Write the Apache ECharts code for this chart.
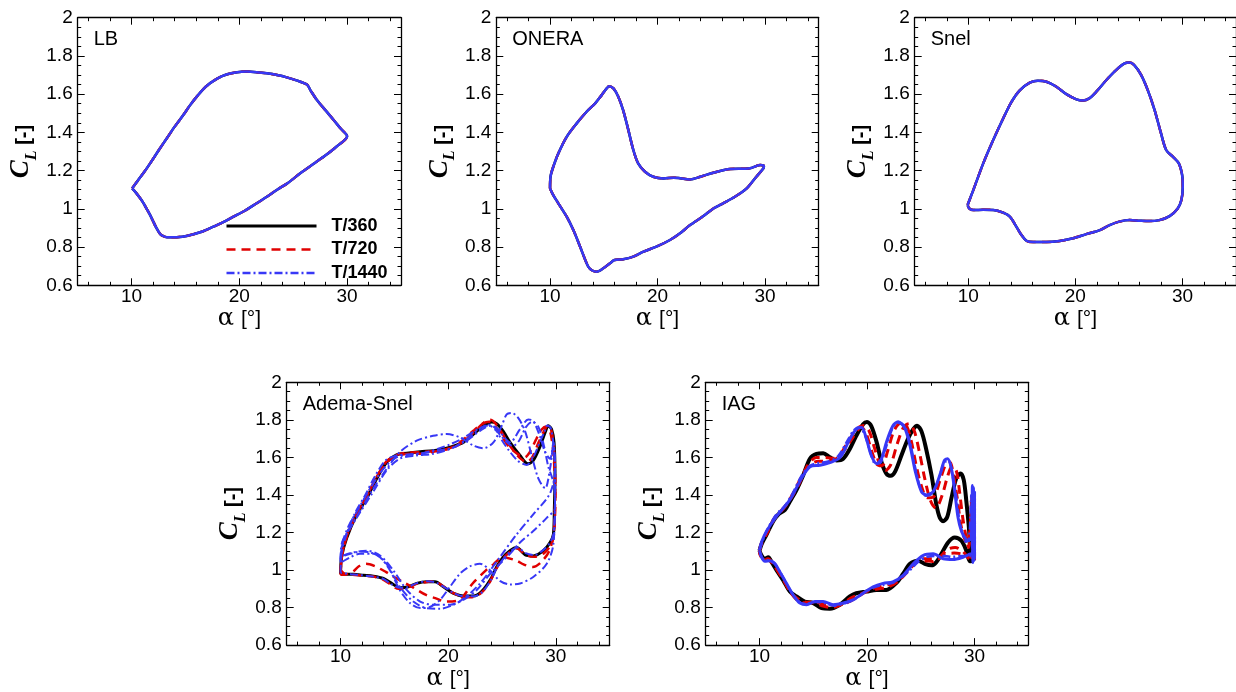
<!DOCTYPE html>
<html>
<head>
<meta charset="utf-8">
<script src="https://cdn.jsdelivr.net/npm/echarts@6/dist/echarts.min.js"></script>
<style>
  html, body { margin: 0; padding: 0; background: #fff; }
  #chart { width: 1236px; height: 692px; }
</style>
</head>
<body>
<div id="chart"></div>
<script>
// ---- axis ranges and tick positions ----
const alphaRange = [5, 35];
const clRange = [0.6, 2];
const alphaMajorTicks = [10, 20, 30];
const alphaMinorTicks = [6, 8, 12, 14, 16, 18, 22, 24, 26, 28, 32, 34];
const clMajorTicks = [0.6, 0.8, 1, 1.2, 1.4, 1.6, 1.8, 2];
const clMinorTicks = [0.65, 0.7, 0.75, 0.85, 0.9, 0.95, 1.05, 1.1, 1.15, 1.25, 1.3, 1.35,
                     1.45, 1.5, 1.55, 1.65, 1.7, 1.75, 1.85, 1.9, 1.95];

const seriesNames = ['T/360', 'T/720', 'T/1440'];
const panelTitles = ['LB', 'ONERA', 'Snel', 'Adema-Snel', 'IAG'];

// ---- lift coefficient loops, [alpha (deg), C_L] ----
const lbLoop = [[10.05,1.107],[10.6,1.15],[11.2,1.195],[11.72,1.238],[12.5,1.305],[13.27,1.369],[14.0,1.43],[14.8,1.491],[15.4,1.54],[16.05,1.587],[16.9,1.64],[17.9,1.68],[18.8,1.703],[19.8,1.715],[20.7,1.718],[21.6,1.715],[22.55,1.709],[23.5,1.7],[24.4,1.688],[25.3,1.672],[26.27,1.65],[26.6,1.62],[27.2,1.569],[28.0,1.515],[28.75,1.465],[29.4,1.42],[30.0,1.38],
  [29.0,1.325],[28.0,1.28],[27.0,1.24],[25.65,1.186],[24.5,1.135],[23.5,1.1],[22.55,1.063],[21.5,1.025],[20.5,0.99],[19.46,0.959],[18.5,0.93],[17.6,0.907],[16.5,0.88],[15.1,0.858],[14.2,0.852],[13.27,0.851],[12.9,0.858],[12.65,0.868],[12.3,0.9],[12.0,0.935],[11.7,0.97],[11.4,1.0],[11.1,1.03],[10.8,1.055],[10.4,1.085],[10.05,1.107]];

const oneraLoop = [[10.0,1.107],[10.05,1.17],[10.3,1.22],[10.77,1.29],[11.55,1.377],[12.48,1.447],[13.4,1.508],[14.2,1.552],[14.8,1.595],[15.27,1.63],[15.5,1.642],[15.9,1.63],[16.35,1.587],[16.8,1.517],[17.29,1.412],[17.75,1.308],[18.2,1.238],[18.84,1.194],[19.6,1.168],[20.55,1.159],[21.5,1.163],[22.1,1.16],[23.0,1.154],[24.0,1.168],[25.2,1.189],[26.75,1.208],[28.0,1.21],[28.6,1.212],[29.55,1.229],[29.9,1.224],
  [29.86,1.212],[29.2,1.168],[28.3,1.107],[27.2,1.063],[26.1,1.029],[25.2,1.002],[24.27,0.962],[23.03,0.915],[22.1,0.872],[21.16,0.837],[19.9,0.802],[18.7,0.776],[17.75,0.75],[16.8,0.736],[16.0,0.732],[15.58,0.715],[14.96,0.689],[14.34,0.671],[13.97,0.676],[13.56,0.697],[12.8,0.802],[12.17,0.889],[11.55,0.959],[10.77,1.029],[10.3,1.072],[10.0,1.107]];

const snelLoop = [[9.94,1.02],[10.47,1.098],[11.4,1.238],[12.33,1.36],[13.26,1.473],[14.04,1.56],[14.81,1.62],[15.75,1.66],[16.5,1.67],[17.3,1.665],[18.23,1.639],[19.16,1.6],[20.1,1.573],[20.7,1.567],[21.3,1.578],[21.96,1.613],[22.9,1.674],[23.8,1.726],[24.6,1.761],[25.06,1.765],[25.5,1.752],[26.15,1.7],[26.77,1.62],[27.4,1.517],[28.0,1.395],[28.48,1.308],[29.1,1.273],[29.66,1.238],[29.97,1.177],[30.03,1.116],[29.9,1.046],[29.56,1.002],
  [28.8,0.962],[27.85,0.941],[26.9,0.936],[25.99,0.938],[25.06,0.941],[24.1,0.933],[23.2,0.915],[22.3,0.889],[21.02,0.868],[19.78,0.846],[18.54,0.832],[17.3,0.826],[16.06,0.826],[15.43,0.833],[14.97,0.863],[14.5,0.906],[13.88,0.959],[13.26,0.98],[12.33,0.994],[11.4,0.995],[10.47,0.994],[10.1,1.002],[9.94,1.02]];

const adsBlack = [[10.0,0.98],[10.1,1.07],[10.57,1.17],[11.5,1.295],[12.43,1.383],[13.36,1.488],[14.3,1.575],[15.2,1.614],[16.15,1.622],[17.4,1.63],[18.6,1.636],[19.55,1.645],[20.5,1.66],[21.4,1.68],[22.35,1.724],[23.25,1.768],[24.04,1.788],[24.5,1.78],[25.1,1.74],[25.74,1.68],[26.67,1.61],[27.4,1.566],[27.9,1.584],[28.5,1.654],[29.0,1.733],[29.3,1.768],[29.6,1.75],[29.83,1.68],[29.92,1.505],[29.86,1.33],[29.77,1.19],
  [29.46,1.147],[28.84,1.103],[27.9,1.075],[27.13,1.082],[26.36,1.12],[25.74,1.103],[25.1,1.068],[24.5,1.016],[23.9,0.946],[23.1,0.885],[22.34,0.862],[21.4,0.862],[20.5,0.876],[19.55,0.911],[18.78,0.937],[18.0,0.937],[17.07,0.929],[16.3,0.911],[15.5,0.906],[14.75,0.929],[13.98,0.955],[13.05,0.967],[12.12,0.972],[11.2,0.977],[10.26,0.977],[10.0,0.98]];

const adsRedA = [[10.0,0.975],[10.15,1.08],[10.6,1.18],[11.5,1.3],[12.4,1.39],[13.3,1.49],[14.3,1.58],[15.3,1.615],[16.3,1.625],[17.5,1.628],[18.6,1.633],[19.6,1.64],[20.6,1.655],[21.5,1.69],[22.4,1.735],[23.3,1.785],[23.9,1.8],[24.4,1.78],[25.0,1.73],[25.7,1.665],[26.6,1.6],[27.3,1.575],[27.8,1.6],[28.4,1.68],[28.9,1.74],[29.25,1.77],[29.6,1.74],[29.85,1.62],[29.95,1.45],[29.9,1.3],[29.8,1.18],
  [29.5,1.13],[28.9,1.09],[28.0,1.07],[27.2,1.08],[26.4,1.115],[25.7,1.095],[25.0,1.055],[24.4,1.0],[23.8,0.93],[23.0,0.875],[22.2,0.855],[21.3,0.86],[20.4,0.88],[19.5,0.915],[18.7,0.94],[17.9,0.935],[17.0,0.925],[16.2,0.905],[15.4,0.9],[14.6,0.925],[13.9,0.95],[13.0,0.965],[12.0,0.97],[11.0,0.975],[10.0,0.975]];

const adsRedB = [[10.0,1.0],[10.2,1.1],[10.7,1.2],[11.6,1.31],[12.5,1.4],[13.4,1.5],[14.4,1.58],[15.4,1.61],[16.4,1.62],[17.5,1.62],[18.6,1.63],[19.6,1.64],[20.6,1.66],[21.5,1.7],[22.4,1.745],[23.2,1.78],[23.8,1.79],[24.3,1.77],[24.9,1.72],[25.6,1.66],[26.4,1.62],[27.1,1.6],[27.6,1.63],[28.2,1.7],[28.7,1.75],[29.1,1.765],[29.5,1.73],[29.8,1.6],[29.95,1.4],
  [29.83,1.208],[29.4,1.103],[28.6,1.04],[27.85,1.016],[27.0,1.03],[26.3,1.051],[25.06,1.068],[24.2,1.03],[23.5,0.998],[22.27,0.928],[21.03,0.841],[19.8,0.832],[18.8,0.85],[17.94,0.867],[16.8,0.905],[15.77,0.937],[14.9,0.965],[14.2,0.99],[13.2,1.02],[12.37,1.033],[11.7,1.02],[11.13,0.99],[10.5,0.978],[10.0,1.0]];

const adsBlueA = [[10.0,0.985],[10.1,1.09],[10.55,1.19],[11.4,1.31],[12.3,1.4],[13.2,1.5],[14.2,1.585],[15.2,1.61],[16.2,1.615],[17.3,1.62],[18.4,1.63],[19.4,1.64],[20.4,1.65],[21.3,1.68],[22.2,1.72],[23.0,1.755],[23.7,1.775],[24.3,1.76],[24.9,1.7],[25.6,1.64],[26.5,1.58],[27.3,1.56],[27.9,1.6],[28.5,1.68],[28.9,1.73],[29.2,1.77],[29.5,1.76],[29.8,1.66],[29.95,1.48],[29.9,1.32],[29.8,1.2],
  [29.5,1.15],[28.9,1.11],[28.0,1.08],[27.2,1.09],[26.4,1.12],[25.8,1.1],[25.2,1.065],[24.6,1.02],[24.0,0.95],[23.2,0.885],[22.4,0.86],[21.5,0.86],[20.6,0.875],[19.6,0.91],[18.8,0.935],[18.0,0.94],[17.1,0.93],[16.3,0.91],[15.5,0.905],[14.7,0.925],[13.9,0.955],[13.0,0.965],[12.0,0.972],[11.0,0.978],[10.0,0.985]];

const adsBlueB = [[10.0,1.05],[10.1,1.138],[10.9,1.226],[11.8,1.313],[13.05,1.435],[14.3,1.54],[15.5,1.628],[17.07,1.689],[18.6,1.715],[19.86,1.724],[21.1,1.706],[22.34,1.663],[23.27,1.649],[24.2,1.68],[24.97,1.768],[25.43,1.829],[25.9,1.837],[26.5,1.81],[27.13,1.741],[27.75,1.61],[28.37,1.488],[29.0,1.435],[29.46,1.54],[29.77,1.663],[29.92,1.558],[29.92,1.418],
  [29.77,1.138],[29.15,1.033],[27.9,0.963],[26.67,0.928],[25.74,0.923],[24.8,0.942],[23.9,0.998],[22.95,1.033],[22.0,1.019],[21.1,0.981],[20.17,0.911],[19.24,0.841],[18.3,0.803],[17.4,0.797],[16.45,0.824],[15.5,0.894],[14.6,0.998],[13.67,1.068],[12.74,1.094],[11.8,1.098],[10.9,1.086],[10.1,1.068],[10.0,1.05]];

const adsBlueC = [[10.0,1.04],[10.26,1.156],[11.5,1.278],[13.05,1.418],[14.3,1.532],[15.5,1.593],[17.07,1.61],[18.6,1.619],[20.17,1.645],[21.7,1.689],[22.95,1.741],[23.9,1.768],[24.5,1.758],[25.1,1.715],[25.74,1.68],[26.67,1.75],[27.44,1.802],[27.9,1.794],[28.5,1.715],[29.0,1.628],[29.46,1.593],[29.77,1.68],[29.92,1.54],
  [29.46,1.409],[27.9,1.296],[26.36,1.19],[24.8,1.068],[23.9,0.998],[22.95,0.928],[21.7,0.859],[20.5,0.815],[19.24,0.794],[18.0,0.797],[16.76,0.832],[15.5,0.911],[14.27,1.033],[13.05,1.086],[11.8,1.086],[10.9,1.068],[10.1,1.042],[10.0,1.04]];

const adsBlueD = [[10.0,1.06],[10.2,1.15],[10.8,1.24],[11.7,1.33],[12.8,1.44],[14.0,1.54],[15.2,1.6],[16.5,1.615],[17.8,1.625],[19.0,1.645],[20.2,1.67],[21.3,1.7],[22.3,1.735],[23.1,1.76],[23.8,1.77],[24.5,1.74],[25.3,1.69],[26.0,1.66],[26.6,1.69],[27.2,1.76],[27.8,1.79],[28.4,1.76],[28.9,1.66],[29.3,1.55],[29.6,1.5],[29.85,1.45],[29.92,1.33],
  [29.15,1.278],[27.9,1.208],[26.67,1.147],[25.74,1.086],[24.8,1.033],[23.9,0.98],[22.65,0.894],[21.4,0.841],[20.17,0.815],[18.6,0.815],[17.4,0.832],[16.15,0.894],[14.9,0.998],[13.67,1.077],[12.43,1.103],[11.2,1.094],[10.26,1.077],[10.0,1.06]];

const iagBlack = [[10.0,1.103],[10.2,1.138],[10.67,1.19],[11.28,1.26],[11.75,1.296],[12.37,1.32],[12.83,1.365],[13.45,1.427],[14.07,1.505],[14.69,1.593],[15.3,1.619],[15.93,1.622],[16.55,1.6],[17.17,1.584],[17.79,1.593],[18.4,1.645],[19.0,1.715],[19.64,1.776],[20.0,1.788],[20.4,1.767],[20.9,1.68],[21.35,1.575],[21.8,1.514],[22.2,1.502],[22.6,1.523],[23.2,1.61],[23.8,1.698],[24.3,1.75],[24.66,1.768],[25.06,1.74],[25.5,1.645],[26.0,1.505],[26.45,1.348],[26.77,1.278],[27.07,1.26],[27.45,1.281],[27.85,1.383],[28.3,1.488],[28.7,1.514],[29.0,1.479],[29.24,1.365],[29.5,1.208],[29.6,1.086],[29.7,1.05],
  [29.55,1.047],[29.24,1.103],[28.78,1.156],[28.16,1.173],[27.54,1.147],[26.92,1.086],[26.45,1.042],[26.0,1.025],[25.37,1.033],[24.75,1.05],[24.0,1.033],[23.36,0.98],[22.74,0.932],[21.8,0.894],[20.88,0.894],[19.95,0.885],[19.0,0.876],[18.4,0.859],[17.48,0.815],[16.55,0.794],[15.77,0.797],[15.0,0.824],[14.2,0.832],[13.45,0.859],[12.83,0.885],[12.2,0.946],[11.6,0.998],[11.13,1.042],[10.82,1.068],[10.5,1.06],[10.2,1.077],[10.0,1.103]];

const iagRedA = [[10.0,1.105],[10.2,1.145],[10.7,1.2],[11.5,1.285],[12.4,1.34],[13.1,1.405],[13.9,1.495],[14.7,1.56],[15.5,1.58],[16.4,1.58],[17.3,1.6],[18.2,1.68],[18.9,1.74],[19.4,1.765],[19.9,1.73],[20.4,1.64],[20.9,1.565],[21.4,1.555],[21.9,1.63],[22.5,1.74],[23.1,1.78],[23.6,1.775],[24.1,1.69],[24.6,1.55],[25.1,1.44],[25.6,1.385],[26.2,1.39],[26.8,1.48],[27.3,1.56],[27.7,1.575],[28.0,1.52],[28.4,1.38],[28.7,1.25],[29.0,1.18],[29.3,1.14],[29.55,1.2],[29.75,1.4],[29.85,1.08],[29.95,1.35],[30.0,1.06],
  [29.6,1.07],[28.9,1.085],[28.1,1.09],[27.3,1.085],[26.6,1.06],[25.9,1.06],[25.2,1.06],[24.4,1.03],[23.6,0.98],[22.8,0.94],[21.9,0.92],[21.0,0.91],[20.1,0.89],[19.2,0.86],[18.3,0.83],[17.4,0.815],[16.5,0.81],[15.6,0.825],[14.8,0.83],[14.1,0.825],[13.5,0.84],[12.9,0.88],[12.3,0.94],[11.7,0.995],[11.2,1.035],[10.8,1.055],[10.4,1.055],[10.1,1.075],[10.0,1.105]];

const iagRedB = [[10.0,1.104],[10.2,1.14],[10.7,1.195],[11.4,1.275],[12.2,1.325],[12.9,1.38],[13.7,1.46],[14.5,1.56],[15.3,1.6],[16.1,1.6],[16.9,1.595],[17.7,1.625],[18.5,1.69],[19.2,1.75],[19.7,1.77],[20.2,1.74],[20.7,1.65],[21.2,1.56],[21.7,1.53],[22.2,1.56],[22.8,1.67],[23.4,1.76],[23.9,1.78],[24.4,1.74],[24.9,1.62],[25.4,1.48],[25.9,1.37],[26.4,1.33],[27.0,1.4],[27.5,1.5],[27.9,1.55],[28.3,1.53],[28.6,1.42],[28.9,1.28],[29.2,1.18],[29.45,1.12],[29.65,1.25],[29.8,1.42],[29.9,1.06],[30.0,1.38],[30.0,1.05],
  [29.5,1.06],[28.9,1.1],[28.2,1.12],[27.5,1.11],[26.8,1.07],[26.1,1.045],[25.3,1.05],[24.5,1.04],[23.7,0.99],[22.9,0.94],[22.0,0.91],[21.1,0.9],[20.2,0.89],[19.3,0.87],[18.5,0.85],[17.6,0.815],[16.7,0.8],[15.8,0.81],[15.0,0.825],[14.2,0.83],[13.5,0.85],[12.9,0.88],[12.3,0.94],[11.7,0.995],[11.2,1.04],[10.8,1.06],[10.4,1.058],[10.1,1.075],[10.0,1.104]];

const iagBlueInner = [[10.0,1.105],[10.6,1.2],[11.5,1.29],[12.4,1.345],[13.1,1.41],[13.9,1.5],[14.7,1.555],[15.5,1.57],[16.4,1.578],[17.3,1.605],[18.2,1.69],[18.8,1.745],[19.3,1.76],[19.8,1.72],[20.3,1.63],[20.8,1.565],[21.3,1.575],[21.8,1.66],[22.4,1.76],[22.9,1.785],[23.5,1.765],[24.0,1.68],[24.5,1.54],[25.0,1.43],[25.5,1.395],[26.1,1.41],[26.7,1.49],[27.2,1.575],[27.6,1.58],[27.9,1.52],[28.3,1.39],[28.6,1.26],[28.9,1.19],[29.2,1.15],[29.5,1.17],[29.7,1.4],[29.8,1.07],[29.9,1.38],[30.0,1.06],
  [29.6,1.075],[28.9,1.075],[28.0,1.07],[27.2,1.075],[26.4,1.075],[25.6,1.07],[24.8,1.045],[24.0,1.0],[23.2,0.96],[22.3,0.93],[21.4,0.92],[20.5,0.905],[19.6,0.875],[18.7,0.84],[17.8,0.82],[16.9,0.81],[16.0,0.825],[15.2,0.83],[14.4,0.818],[13.7,0.83],[13.1,0.87],[12.5,0.93],[11.9,0.99],[11.4,1.035],[10.9,1.052],[10.5,1.05],[10.2,1.07],[10.0,1.105]];

const iagBlueOuter = [[10.0,1.106],[10.2,1.15],[10.67,1.208],[11.6,1.287],[12.5,1.348],[13.1,1.4],[13.9,1.488],[14.7,1.55],[15.6,1.558],[16.55,1.572],[17.5,1.6],[18.4,1.698],[19.0,1.75],[19.5,1.759],[19.95,1.698],[20.4,1.61],[20.9,1.567],[21.35,1.593],[21.8,1.68],[22.4,1.767],[22.9,1.79],[23.5,1.758],[24.0,1.663],[24.5,1.523],[25.06,1.418],[25.5,1.4],[26.15,1.418],[26.77,1.505],[27.2,1.584],[27.5,1.593],[27.85,1.54],[28.16,1.418],[28.47,1.278],[28.78,1.208],[29.1,1.173],[29.4,1.156],[29.7,1.173],[29.8,1.45],[29.85,1.04],[29.9,1.44],[29.95,1.05],[30.0,1.42],[30.0,1.07],
  [29.7,1.086],[28.93,1.068],[28.0,1.056],[27.1,1.06],[26.15,1.086],[25.2,1.077],[24.3,1.033],[23.36,0.972],[22.4,0.937],[21.5,0.929],[20.57,0.911],[19.64,0.876],[18.7,0.841],[17.8,0.824],[16.86,0.815],[15.93,0.832],[15.15,0.832],[14.38,0.815],[13.76,0.824],[13.14,0.867],[12.52,0.928],[11.9,0.99],[11.44,1.033],[10.98,1.05],[10.5,1.047],[10.2,1.068],[10.0,1.106]];

// ---- layout of the five panels (px) ----
const gridBoxes = [
  { left: 77.7,  top: 17.7,  width: 323.3, height: 267.6 },
  { left: 496.3, top: 17.7,  width: 322.4, height: 267.6 },
  { left: 914.7, top: 17.7,  width: 322.4, height: 267.6 },
  { left: 286.7, top: 382.3, width: 323,   height: 267 },
  { left: 705.7, top: 382.3, width: 322.6, height: 267 }
];

// ---- line styles per time step ----
const BLACK = '#000000', RED = '#e00000', BLUE = '#3838f6';
const dashRed = [9, 6];
const dashDot = [8, 3, 2, 3];
const st = {
  black: (w) => ({ color: BLACK, type: 'solid', width: w }),
  red: (w) => ({ color: RED, type: dashRed, width: w }),
  blueDD: (w) => ({ color: BLUE, type: dashDot, width: w }),
  blueSolid: (w) => ({ color: BLUE, type: 'solid', width: w })
};

// series list for each panel: [name, data, style]
const panelSeries = [
  [[seriesNames[0], lbLoop, st.black(2.5)], [seriesNames[1], lbLoop, st.red(2.5)], [seriesNames[2], lbLoop, st.blueSolid(2.5)]],
  [[seriesNames[0], oneraLoop, st.black(2.5)], [seriesNames[1], oneraLoop, st.red(2.5)], [seriesNames[2], oneraLoop, st.blueSolid(2.5)]],
  [[seriesNames[0], snelLoop, st.black(2.5)], [seriesNames[1], snelLoop, st.red(2.5)], [seriesNames[2], snelLoop, st.blueSolid(2.5)]],
  [[seriesNames[0], adsBlack, st.black(3)],
   [seriesNames[1], adsRedA, st.red(2.5)], [seriesNames[1], adsRedB, st.red(2.5)],
   [seriesNames[2], adsBlueA, st.blueDD(2)], [seriesNames[2], adsBlueB, st.blueDD(2)],
   [seriesNames[2], adsBlueC, st.blueDD(2)], [seriesNames[2], adsBlueD, st.blueDD(2)]],
  [[seriesNames[0], iagBlack, st.black(4)],
   [seriesNames[1], iagRedB, st.red(3)], [seriesNames[1], iagRedA, st.red(3)],
   [seriesNames[2], iagBlueInner, st.blueDD(2.5)], [seriesNames[2], iagBlueOuter, st.blueSolid(3)]]
];

const labelFont = { fontFamily: 'Liberation Sans', fontSize: 19, color: '#000' };

function xAxisFor(gi, position, ticks, len, showLine, withLabels) {
  return {
    type: 'value', gridIndex: gi, position: position,
    min: alphaRange[0], max: alphaRange[1],
    axisLine: { show: showLine, onZero: false, lineStyle: { color: '#000', width: 1.3 } },
    axisTick: { show: true, inside: true, length: len, customValues: ticks, lineStyle: { color: '#000', width: 1 } },
    axisLabel: Object.assign({ show: withLabels, customValues: alphaMajorTicks, margin: 2 }, labelFont),
    splitLine: { show: false },
    name: withLabels ? '{a|α}{b|[°]}' : '',
    nameLocation: 'middle', nameGap: 14,
    nameTextStyle: {
      color: '#000',
      rich: {
        a: { fontFamily: 'DejaVu Serif', fontSize: 24, color: '#000', padding: [0, 7, 0, 0] },
        b: { fontFamily: 'Liberation Sans', fontSize: 21, color: '#000' }
      }
    }
  };
}

function yAxisFor(gi, position, ticks, len, showLine, withLabels) {
  return {
    type: 'value', gridIndex: gi, position: position,
    min: clRange[0], max: clRange[1],
    axisLine: { show: showLine, onZero: false, lineStyle: { color: '#000', width: 1.3 } },
    axisTick: { show: true, inside: true, length: len, customValues: ticks, lineStyle: { color: '#000', width: 1 } },
    axisLabel: Object.assign({ show: withLabels, customValues: clMajorTicks, margin: 5,
      formatter: (v) => String(Math.round(v * 10) / 10) }, labelFont),
    splitLine: { show: false },
    name: withLabels ? '{c|C}{l|L}{s| [-]}' : '',
    nameLocation: 'middle', nameGap: 38, nameRotate: 90,
    nameTextStyle: {
      color: '#000',
      rich: {
        c: { fontFamily: 'Liberation Serif', fontStyle: 'italic', fontWeight: 'bold', fontSize: 27, color: '#000', verticalAlign: 'bottom', padding: [0, 0, 5, 0] },
        l: { fontFamily: 'Liberation Serif', fontStyle: 'italic', fontWeight: 'bold', fontSize: 16, color: '#000', verticalAlign: 'bottom' },
        s: { fontFamily: 'Liberation Sans', fontWeight: 'bold', fontSize: 20, color: '#000', verticalAlign: 'bottom', padding: [0, 0, 5, 0] }
      }
    }
  };
}

const grids = [], xAxes = [], yAxes = [], series = [], titles = [];
gridBoxes.forEach((g, gi) => {
  grids.push({ left: g.left, top: g.top, width: g.width, height: g.height, containLabel: false });
  const xi = xAxes.length, yi = yAxes.length;
  xAxes.push(xAxisFor(gi, 'bottom', alphaMajorTicks, 7, true, true));
  xAxes.push(xAxisFor(gi, 'bottom', alphaMinorTicks, 3.5, false, false));
  xAxes.push(xAxisFor(gi, 'top', alphaMajorTicks, 7, true, false));
  xAxes.push(xAxisFor(gi, 'top', alphaMinorTicks, 3.5, false, false));
  yAxes.push(yAxisFor(gi, 'left', clMajorTicks, 7, true, true));
  yAxes.push(yAxisFor(gi, 'left', clMinorTicks, 3.5, false, false));
  yAxes.push(yAxisFor(gi, 'right', clMajorTicks, 7, true, false));
  yAxes.push(yAxisFor(gi, 'right', clMinorTicks, 3.5, false, false));

  panelSeries[gi].forEach(([name, data, ls]) => {
    series.push({
      type: 'line', name: name, xAxisIndex: xi, yAxisIndex: yi,
      data: data, symbol: 'none', showSymbol: false, smooth: 0.3,
      lineStyle: ls, itemStyle: { color: ls.color },
      emphasis: { disabled: true }, silent: true
    });
  });

  titles.push({
    text: panelTitles[gi], left: g.left + 16, top: g.top + 12, padding: 0,
    textStyle: { fontFamily: 'Liberation Sans', fontSize: 20, fontWeight: 'normal', color: '#000' }
  });
});

const chart = echarts.init(document.getElementById('chart'), null, { renderer: 'canvas' });
chart.setOption({
  animation: false,
  backgroundColor: '#fff',
  title: titles,
  grid: grids,
  xAxis: xAxes,
  yAxis: yAxes,
  series: series,
  legend: {
    orient: 'vertical', left: 225, top: 217, padding: 0,
    itemWidth: 90, itemHeight: 18, itemGap: 5.5,
    selectedMode: false,
    itemStyle: { opacity: 0 },
    textStyle: { fontFamily: 'Liberation Sans', fontSize: 18, fontWeight: 'bold', color: '#000', padding: [0, 0, 0, 10] },
    data: [
      { name: seriesNames[0], lineStyle: { color: BLACK, type: 'solid', width: 3 } },
      { name: seriesNames[1], lineStyle: { color: RED, type: dashRed, width: 2.5 } },
      { name: seriesNames[2], lineStyle: { color: BLUE, type: dashDot, width: 2.5 } }
    ]
  }
});
</script>
</body>
</html>
